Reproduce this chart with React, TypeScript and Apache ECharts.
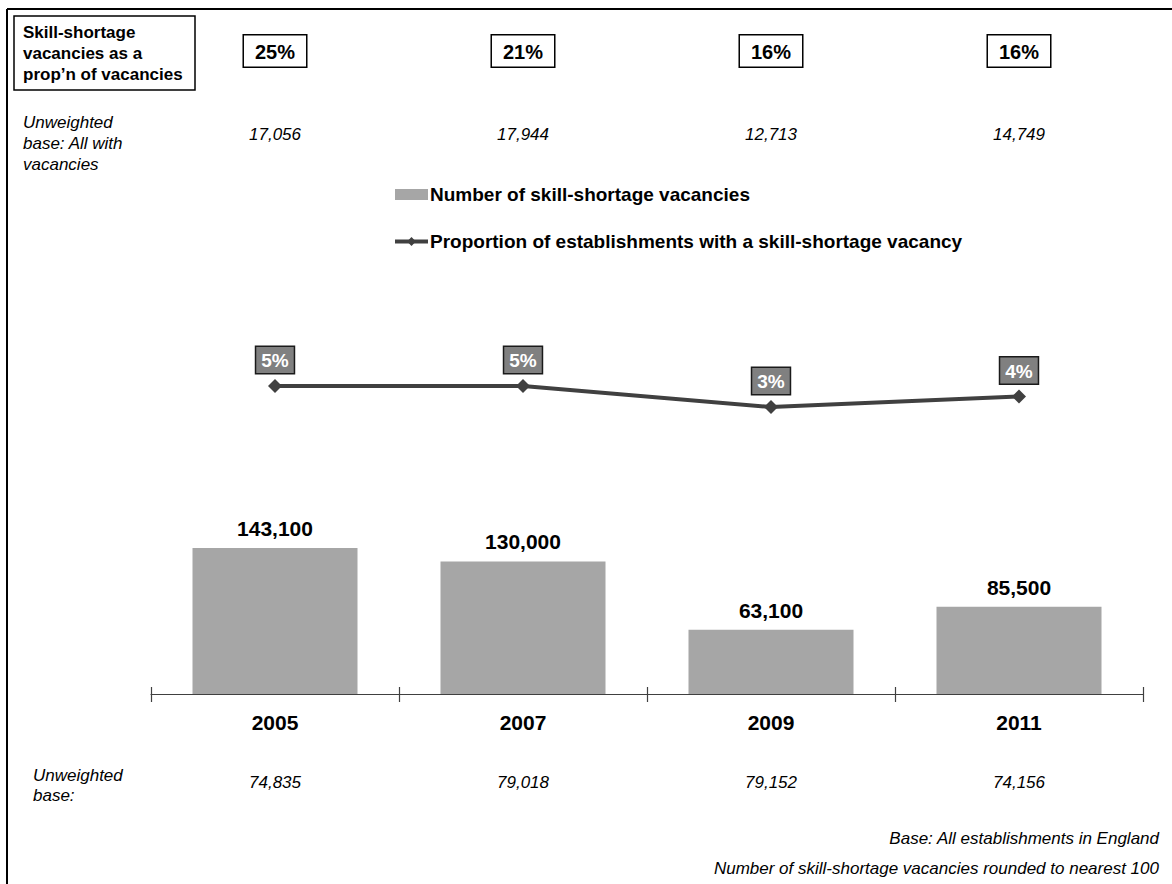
import React, { useEffect, useRef } from "react";
import * as echarts from "echarts";

const years = ["2005", "2007", "2009", "2011"];
const skillShortageVacancies = [143100, 130000, 63100, 85500];
const proportionWithSSV = [5, 5, 3, 4];
const ssvShareOfVacancies = [25, 21, 16, 16];
const baseAllWithVacancies = ["17,056", "17,944", "12,713", "14,749"];
const baseAllEstablishments = ["74,835", "79,018", "79,152", "74,156"];

const FONT = "'Liberation Sans', Arial, Helvetica, sans-serif";

function fmtThousands(v: number): string {
  return String(v).replace(/\B(?=(\d{3})+(?!\d))/g, ",");
}

export default function App() {
  const ref = useRef<HTMLDivElement>(null);

  useEffect(() => {
    if (!ref.current) return;
    const chart = echarts.init(ref.current, null, { renderer: "svg" });

    const gridLeft = 151;
    const gridRight = 1172 - 1143;

    const option: any = {
      animation: false,
      backgroundColor: "#ffffff",
      textStyle: { fontFamily: FONT },
      legend: {
        orient: "vertical",
        left: 393,
        top: 185,
        padding: 0,
        itemWidth: 33,
        itemHeight: 11,
        itemGap: 28,
        textStyle: { fontFamily: FONT, fontSize: 19, fontWeight: "bold", color: "#000", padding: [0, 0, 0, -3] },
        data: [
          { name: "Number of skill-shortage vacancies", icon: "rect" },
          {
            name: "Proportion of establishments with a skill-shortage vacancy",
            lineStyle: { width: 4, color: "#404040" },
          },
        ],
      },
      grid: [
        { left: gridLeft, right: gridRight, top: 388, bottom: 190 },
        { left: gridLeft, right: gridRight, top: 333.5, height: 105 },
      ],
      xAxis: [
        {
          type: "category",
          gridIndex: 0,
          data: years,
          position: "bottom",
          axisLine: { show: true, lineStyle: { color: "#404040", width: 1.2 } },
          axisTick: { show: true, inside: false, length: 8, lineStyle: { color: "#404040", width: 1.2 } },
          axisLabel: { fontFamily: FONT, fontSize: 21, fontWeight: "bold", color: "#000", margin: 18 },
        },
        {
          type: "category",
          gridIndex: 0,
          data: years,
          position: "bottom",
          axisLine: { show: false },
          axisTick: { show: true, inside: true, length: 7, lineStyle: { color: "#404040", width: 1.2 } },
          axisLabel: { show: false },
        },
        {
          type: "category",
          gridIndex: 0,
          data: years,
          position: "bottom",
          offset: 80,
          axisLine: { show: false },
          axisTick: { show: false },
          axisLabel: {
            fontFamily: FONT,
            fontSize: 17,
            fontStyle: "italic",
            color: "#000",
            margin: 0,
            formatter: (_v: string, i: number) => baseAllEstablishments[i],
          },
        },
        {
          type: "category",
          gridIndex: 1,
          data: years,
          position: "top",
          axisLine: { show: false },
          axisTick: { show: false },
          axisLabel: { show: false },
        },
        {
          type: "category",
          gridIndex: 1,
          data: years,
          position: "top",
          offset: 259,
          axisLine: { show: false },
          axisTick: { show: false },
          axisLabel: {
            fontFamily: FONT,
            fontSize: 20,
            fontWeight: "bold",
            color: "#000",
            margin: 8,
            borderColor: "#000",
            borderWidth: 1.5,
            padding: [6, 11, 5, 11],
            backgroundColor: "#fff",
            formatter: (_v: string, i: number) => ssvShareOfVacancies[i] + "%",
          },
        },
        {
          type: "category",
          gridIndex: 1,
          data: years,
          position: "top",
          offset: 183,
          axisLine: { show: false },
          axisTick: { show: false },
          axisLabel: {
            fontFamily: FONT,
            fontSize: 17,
            fontStyle: "italic",
            color: "#000",
            margin: 8,
            formatter: (_v: string, i: number) => baseAllWithVacancies[i],
          },
        },
      ],
      yAxis: [
        { type: "value", gridIndex: 0, min: 0, max: 300000, show: false },
        { type: "value", gridIndex: 1, min: 0, max: 10, show: false },
      ],
      series: [
        {
          name: "Number of skill-shortage vacancies",
          type: "bar",
          xAxisIndex: 0,
          yAxisIndex: 0,
          data: skillShortageVacancies,
          barWidth: 165,
          itemStyle: { color: "#a6a6a6" },
          label: {
            show: true,
            position: "top",
            distance: 9,
            fontFamily: FONT,
            fontSize: 21,
            fontWeight: "bold",
            color: "#000",
            formatter: (p: any) => fmtThousands(p.value),
          },
        },
        {
          name: "Proportion of establishments with a skill-shortage vacancy",
          type: "line",
          xAxisIndex: 3,
          yAxisIndex: 1,
          data: proportionWithSSV,
          symbol: "diamond",
          symbolSize: 14,
          lineStyle: { color: "#404040", width: 4 },
          itemStyle: { color: "#404040" },
          label: {
            show: true,
            position: "top",
            distance: 6,
            fontFamily: FONT,
            fontSize: 19,
            fontWeight: "bold",
            color: "#fff",
            backgroundColor: "#808080",
            borderColor: "#1a1a1a",
            borderWidth: 1.5,
            padding: [4, 5, 3, 5],
            formatter: (p: any) => p.value + "%",
          },
        },
      ],
      graphic: [
        { type: "line", shape: { x1: 7, y1: 9, x2: 1172, y2: 9 }, style: { stroke: "#000", lineWidth: 2 } },
        { type: "line", shape: { x1: 7, y1: 9, x2: 7, y2: 884 }, style: { stroke: "#000", lineWidth: 2 } },
        { type: "rect", shape: { x: 14, y: 16, width: 181, height: 74 }, style: { fill: "#fff", stroke: "#000", lineWidth: 1.5 } },
        {
          type: "text",
          x: 23,
          y: 22,
          style: {
            text: "Skill-shortage\nvacancies as a\nprop\u2019n of vacancies",
            font: `bold 17px ${FONT}`,
            lineHeight: 21,
            fill: "#000",
          },
        },
        {
          type: "text",
          x: 23,
          y: 112,
          style: {
            text: "Unweighted\nbase: All with\nvacancies",
            font: `italic 17px ${FONT}`,
            lineHeight: 21,
            fill: "#000",
          },
        },
        {
          type: "text",
          x: 33,
          y: 765,
          style: {
            text: "Unweighted\nbase:",
            font: `italic 17px ${FONT}`,
            lineHeight: 20,
            fill: "#000",
          },
        },
        {
          type: "text",
          x: 1159,
          y: 838,
          style: {
            text: "Base: All establishments in England",
            font: `italic 17px ${FONT}`,
            fill: "#000",
            align: "right",
            verticalAlign: "middle",
          },
        },
        {
          type: "text",
          x: 1159,
          y: 868,
          style: {
            text: "Number of skill-shortage vacancies rounded to nearest 100",
            font: `italic 17px ${FONT}`,
            fill: "#000",
            align: "right",
            verticalAlign: "middle",
          },
        },
      ],
    };

    chart.setOption(option);
    return () => chart.dispose();
  }, []);

  return (
    <div
      ref={ref}
      style={{ position: "fixed", left: 0, top: 0, width: 1172, height: 884, background: "#fff" }}
    />
  );
}
